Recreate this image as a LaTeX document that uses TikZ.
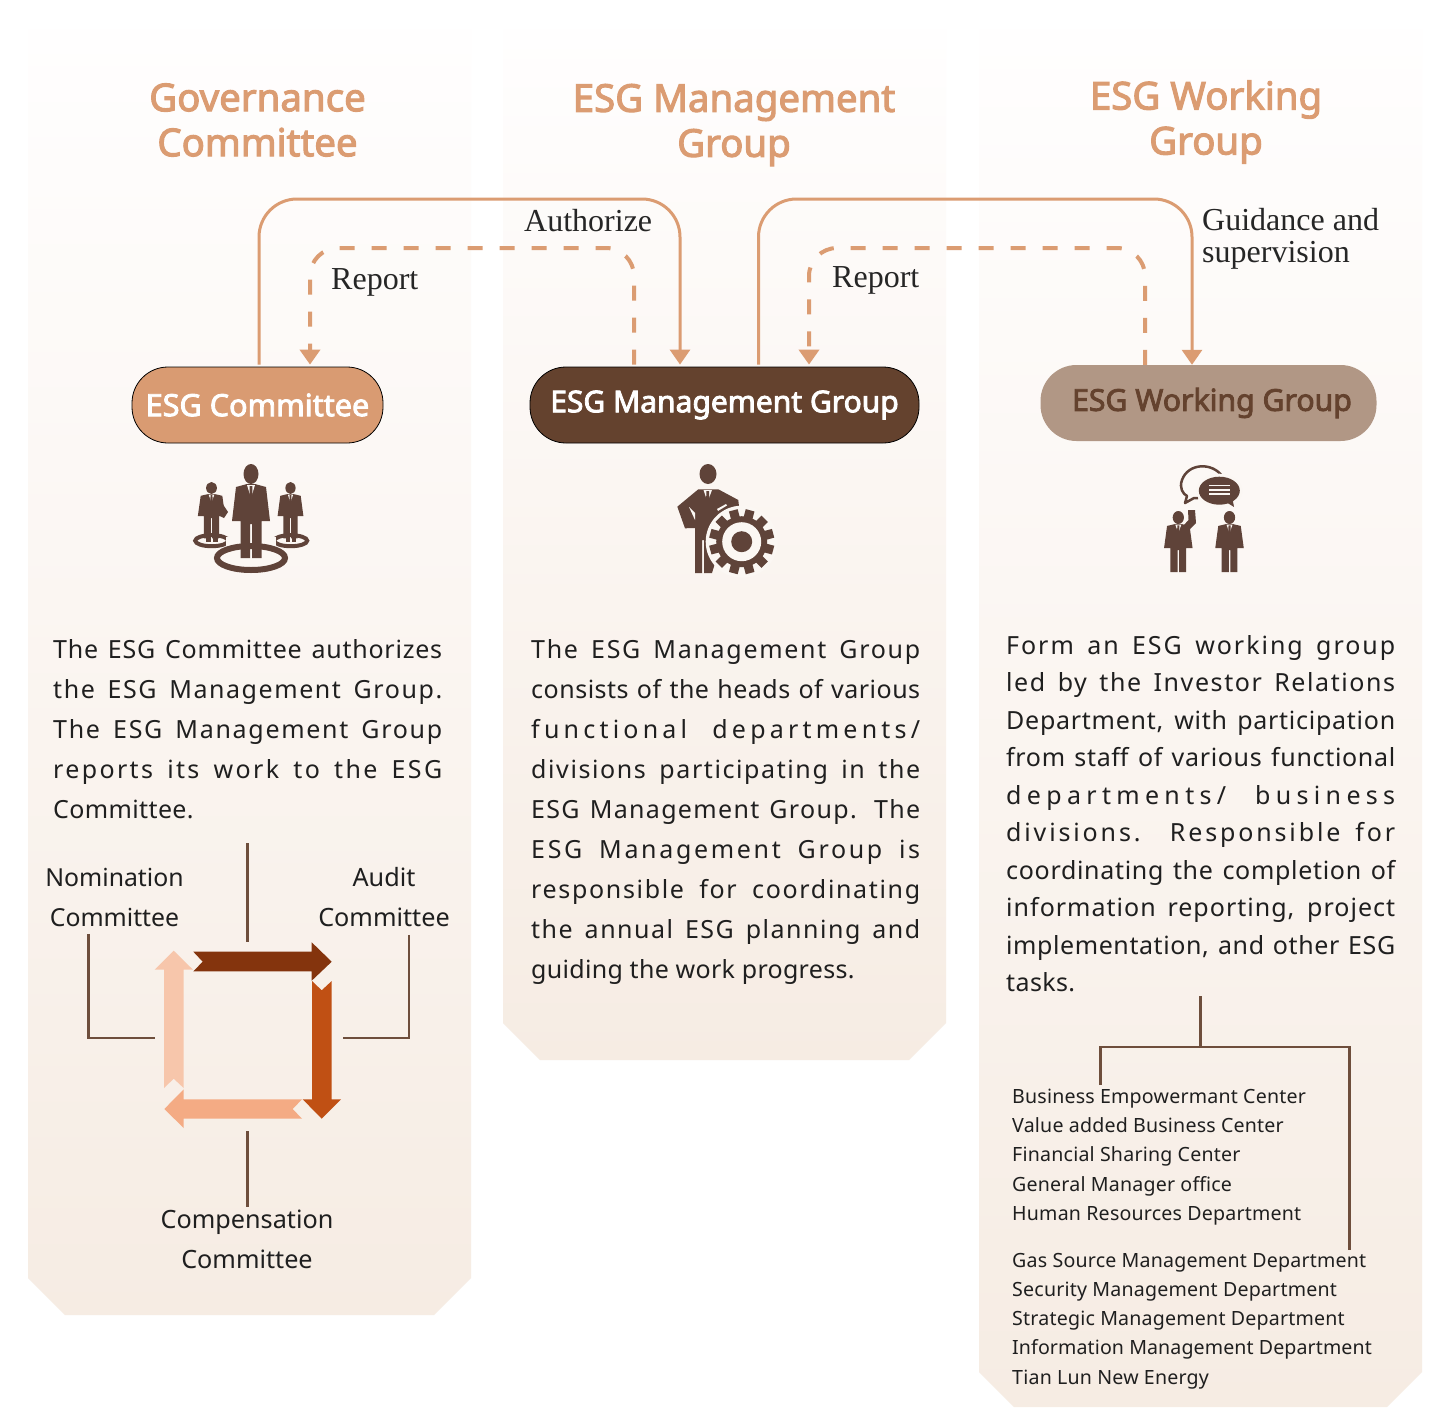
\documentclass[tikz,border=0pt]{standalone}
\usepackage{fontspec}
\usepackage{xstring}
\setmainfont{Noto Sans}
\newfontfamily\boldsans[FakeBold=2.8]{Noto Sans}
\newfontfamily\labelserif{Liberation Serif}
\usetikzlibrary{arrows.meta,calc}
\definecolor{tan}{HTML}{DB9C72}
\definecolor{pilltan}{HTML}{D99B72}
\definecolor{cocoa}{HTML}{64422E}
\definecolor{taupe}{HTML}{B19785}
\definecolor{icon}{HTML}{5F4339}
\definecolor{treeline}{HTML}{6E4E3C}
\definecolor{panelbot}{HTML}{F6ECE3}
\definecolor{paneltop}{HTML}{FFFEFE}
\definecolor{iconbg}{HTML}{FBF7F3}
\definecolor{arrowa}{HTML}{84340D}
\definecolor{arrowb}{HTML}{C05014}
\definecolor{arrowc}{HTML}{F4AB84}
\definecolor{arrowd}{HTML}{F7C6AB}
\hbadness=10000 \hfuzz=40pt
\newcommand\jl[2][.8]{%
  \setbox0=\hbox{#2}%
  \StrLen{#2}[\nch]%
  \pgfmathsetmacro\lsp{100*(389-\wd0/1pt)*#1/(\nch-1)/25}%
  \hbox to 389pt{\addfontfeature{LetterSpace=\lsp}#2}}
\newcommand\nl[2][1.5]{\hbox{\addfontfeature{LetterSpace=#1}#2}}
\newcommand\suitman[3]{%
  \begin{scope}[shift={(#1)},xscale=#3,yscale=#2]
    \fill[icon] (0,-10) ellipse [x radius=7.5,y radius=10];
    \fill[icon] (-4,0) -- (-15,3) -- (-19,37) -- (-10.5,37) -- (-10.5,74) -- (-1,74) -- (-1,40) -- (1,40) -- (1,74) -- (10.5,74) -- (10.5,37) -- (19,37) -- (15,3) -- (4,0) -- cycle;
    \fill[iconbg] (-4,1) -- (0,14) -- (4,1) -- cycle;
    \fill[icon] (-1.3,2) -- (1.3,2) -- (1.6,13) -- (0,18) -- (-1.6,13) -- cycle;
  \end{scope}}
\tikzset{
  panel/.style={top color=paneltop,bottom color=panelbot,draw=none},
  heading/.style={font=\boldsans\fontsize{38.4}{45}\selectfont,text=tan,align=center,inner sep=0pt},
  pill/.style={rounded corners=36pt,minimum height=76pt,inner sep=0pt,font=\boldsans\fontsize{30.6}{36}\selectfont},
  solidlink/.style={draw=tan,line width=3pt,rounded corners=38pt,-{Triangle[length=15pt,width=20pt]}},
  dashlink/.style={draw=tan,line width=4pt,rounded corners=28pt,dash pattern=on 15pt off 17pt,-{Triangle[length=15pt,width=20pt]}},
  seriflabel/.style={font=\labelserif\fontsize{32}{32}\selectfont,text=black!85,inner sep=0pt,anchor=west},
  bodytext/.style={font=\fontsize{25}{40}\selectfont,text=black!88,inner sep=0pt,anchor=base west},
  tag/.style={font=\fontsize{25.2}{40}\selectfont,text=black!88,inner sep=0pt,align=center},
  small/.style={font=\fontsize{19.6}{29.4}\selectfont,text=black!88,inner sep=0pt,anchor=base west,align=left},
  tree/.style={draw=treeline,line width=2.5pt},
}
\begin{document}
\begin{tikzpicture}[x=1pt,y=-1pt]
\useasboundingbox (0,0) rectangle (1439,1407);
\fill[white] (0,0) rectangle (1439,1407);
% panels
\shade[panel] (28,30) -- (471,30) -- (471,1278) -- (434,1315) -- (65,1315) -- (28,1278) -- cycle;
\shade[panel] (503,30) -- (946,30) -- (946,1023) -- (909,1060) -- (540,1060) -- (503,1023) -- cycle;
\shade[panel] (979,30) -- (1422,30) -- (1422,1372) -- (1387,1407) -- (1014,1407) -- (979,1372) -- cycle;
% headings
\node[heading] (h1) at (257.5,120) {Governance\\Committee};
\node[heading] (h2) at (734,125) {ESG Management\\Group};
\node[heading] (h3) at (1206,122) {ESG Working\\Group};
% pills
\node[pill,draw=black,line width=.8pt,fill=pilltan,text=white,minimum width=251pt] (esgc) at (257.5,405) {ESG Committee};
\node[pill,draw=black,line width=.8pt,fill=cocoa,text=white,minimum width=389pt] (esgm) at (724.5,405) {\raisebox{.5pt}{\fontsize{30}{36}\selectfont ESG Management Group}};
\node[pill,fill=taupe,text=cocoa,minimum width=336pt] (esgw) at (1208.5,403) {\hspace*{7pt}\raisebox{-.5pt}{\fontsize{30.2}{36}\selectfont ESG Working Group}};
% links
\coordinate (t1) at (470,199);
\coordinate (t2) at (470,248);
\coordinate (t3) at (970,199);
\coordinate (t4) at (970,248);
\draw[solidlink] ([xshift=1.5pt,yshift=2pt]esgc.north) |- (t1) -| ([xshift=-44.5pt,yshift=2pt]esgm.north);
\draw[dashlink] ([xshift=-90.5pt,yshift=2pt]esgm.north) |- (t2) -| ([xshift=52.5pt,yshift=2pt]esgc.north);
\draw[solidlink] ([xshift=34pt,yshift=2pt]esgm.north) |- (t3) -| ([xshift=-16.5pt]esgw.north);
\draw[dashlink] ([xshift=-63.5pt]esgw.north) |- (t4) -| ([xshift=84.5pt,yshift=2pt]esgm.north);
\node[seriflabel] (l1) at (524,221) {Authorize};
\node[seriflabel] (l2) at (331,282) {Report};
\node[seriflabel] (l3) at (832,280) {Report};
\node[seriflabel,align=left] (l4) at (1202,239) {Guidance and\\supervision};
% icon 1
\suitman{211.5,494}{.6}{.72}
\suitman{290.5,494}{.6}{.68}
\draw[icon,line width=4pt] (211.7,540.7) ellipse [x radius=16.5,y radius=5.5];
\draw[icon,line width=4pt] (290.7,540.7) ellipse [x radius=16.5,y radius=5.5];
\fill[icon] (206,530) rectangle (211,542);
\fill[icon] (212.5,530) rectangle (217.5,542);
\fill[icon] (285.5,530) rectangle (290,542);
\fill[icon] (291.5,530) rectangle (296,542);
\fill[icon] (222,503) -- (228,512) -- (224,518) -- (220,516) -- cycle;
\fill[iconbg] (226,537) rectangle (276,548);
\draw[icon,line width=6pt] (251,558) ellipse [x radius=34,y radius=12];
\suitman{251,484}{1}{1}
% icon 2
\fill[icon] (708,474) ellipse [x radius=8.5,y radius=10];
\fill[icon] (698.3,489.3) -- (677.3,506.7) -- (685,528.3) -- (695,528) -- (695,573) -- (702,573) -- (702,540) -- (704,540) -- (704,573) -- (712,573) -- (725,530) -- (733,508) -- (739,506.7) -- (738.3,500) -- (718.3,489.3) -- cycle;
\fill[iconbg] (689,507) -- (695,513) -- (695,520) -- cycle;
\fill[iconbg] (703.5,490) -- (707.5,502) -- (712,490) -- cycle;
\fill[icon] (706.5,491) -- (709,491) -- (709.5,501) -- (707.7,505) -- (706,501) -- cycle;
\fill[iconbg] (717,509) -- (726,504) -- (727,505.5) -- (718,511) -- cycle;
\fill[iconbg] (741.7,541.7) circle [radius=36];
\fill[icon] (741.7,541.7) circle [radius=25.5];
\foreach \a in {0,30,...,330}{
  \fill[icon,shift={(741.7,541.7)},rotate=\a+15] (-4.5,-32.5) rectangle (4.5,-22);
}
\fill[iconbg] (741.7,541.7) circle [radius=19.5];
\fill[icon] (741.7,541.7) circle [radius=10.5];
% icon 3
\suitman{1178.3,524}{.65}{.75}
\suitman{1229.5,524}{.65}{.75}
\fill[icon] (1183,526) -- (1188.5,520) -- (1188,510) -- (1195,510) -- (1196,523) -- (1187,532) -- cycle;
\draw[icon,line width=2.5pt,line join=round] (1222,476) .. controls (1212,462) and (1188,463) .. (1182,480) .. controls (1179,488) and (1183,494) .. (1187,496) -- (1185,503) -- (1194,498) -- (1198,498);
\fill[iconbg] (1219.3,490.7) ellipse [x radius=23,y radius=17];
\fill[icon] (1219.3,490.7) ellipse [x radius=20.5,y radius=14];
\fill[icon] (1226,502) -- (1234,507) -- (1232,496) -- cycle;
\foreach \yy in {485.5,489.8,494}{\fill[iconbg] (1208.5,\yy-.9) rectangle (1230,\yy+.9);}
% body
\node[bodytext] (b1) at (53,658) {\vtop{\baselineskip=40pt\lineskiplimit=-20pt
\jl{The ESG Committee authorizes}
\jl{the ESG Management Group.}
\jl{The ESG Management Group}
\jl{reports its work to the ESG}
\nl{Committee.}}};
\node[bodytext] (b2) at (531,658) {\vtop{\baselineskip=40pt\lineskiplimit=-20pt
\jl{The ESG Management Group}
\jl{consists of the heads of various}
\jl[.9]{functional departments/}
\jl{divisions participating in the}
\jl{ESG Management Group. The}
\jl{ESG Management Group is}
\jl{responsible for coordinating}
\jl{the annual ESG planning and}
\nl[1.2]{guiding the work progress.}}};
\node[bodytext] (b3) at (1006,654) {\vtop{\baselineskip=37.5pt\lineskiplimit=-20pt
\jl{Form an ESG working group}
\jl{led by the Investor Relations}
\jl{Department, with participation}
\jl{from staff of various functional}
\jl[.9]{departments/ business}
\jl{divisions. Responsible for}
\jl{coordinating the completion of}
\jl{information reporting, project}
\jl{implementation, and other ESG}
\nl{tasks.}}};
% committee cycle
\node[tag,font=\fontsize{24.8}{40}\selectfont] (nom) at (114.5,897.5) {Nomination\\Committee};
\node[tag] (aud) at (384,897) {Audit\\Committee};
\node[tag] (cmp) at (247,1239) {Compensation\\Committee};
\coordinate (ctop) at (247.5,843);
\coordinate (ctopb) at (247.5,942);
\coordinate (cl) at (155,1038);
\coordinate (cr) at (343,1038);
\draw[tree] (ctop) -- (ctopb);
\draw[tree] ([xshift=-26pt,yshift=-7pt]nom.south) |- (cl);
\draw[tree] ([xshift=25pt,yshift=-8pt]aud.south) |- (cr);
\coordinate (cbot) at (247.5,1131);
\coordinate (cbote) at (247.5,1207);
\draw[tree] (cbot) -- (cbote);
\fill[arrowa] (193.3,951.7) -- (311.7,951.7) -- (311.7,942.3) -- (331.7,961.7) -- (311.7,980.7) -- (311.7,971.3) -- (193.3,971.3) -- (202.7,961.7) -- cycle;
\fill[arrowb] (312,981) -- (321.7,990.3) -- (331.7,981) -- (331.7,1099.3) -- (341,1099.3) -- (321.7,1118.7) -- (302.7,1099.3) -- (312,1099.3) -- cycle;
\fill[arrowc] (302,1099.3) -- (292.7,1109) -- (302,1118.7) -- (183.7,1118.7) -- (183.7,1128) -- (164.3,1109) -- (183.7,1089.3) -- (183.7,1099.3) -- cycle;
\fill[arrowd] (183.7,1088) -- (173.7,1078.7) -- (164,1088) -- (164,969.7) -- (154.7,969.7) -- (173.7,950.7) -- (193,969.7) -- (183.7,969.7) -- cycle;
% department tree
\coordinate (rs) at (1200.5,996);
\coordinate (rj) at (1200.5,1047);
\node[small] (d1) at (1012,1103) {\vtop{\baselineskip=29.4pt\lineskiplimit=-20pt
\nl[1]{Business Empowermant Center}
\nl[1]{Value added Business Center}
\nl[1]{Financial Sharing Center}
\nl[1]{General Manager office}
\nl[1]{Human Resources Department}}};
\node[small] (d2) at (1012,1267) {\vtop{\baselineskip=29.3pt\lineskiplimit=-20pt
\nl[1]{Gas Source Management Department}
\nl[1]{Security Management Department}
\nl[1]{Strategic Management Department}
\nl[.5]{Information Management Department}
\nl[1]{Tian Lun New Energy}}};
\coordinate (re1) at (1100.5,1085);
\coordinate (re2) at (1349.5,1250);
\draw[tree] (rs) -- (rj);
\draw[tree] (re1) |- (rj) -| (re2);
\end{tikzpicture}
\end{document}
